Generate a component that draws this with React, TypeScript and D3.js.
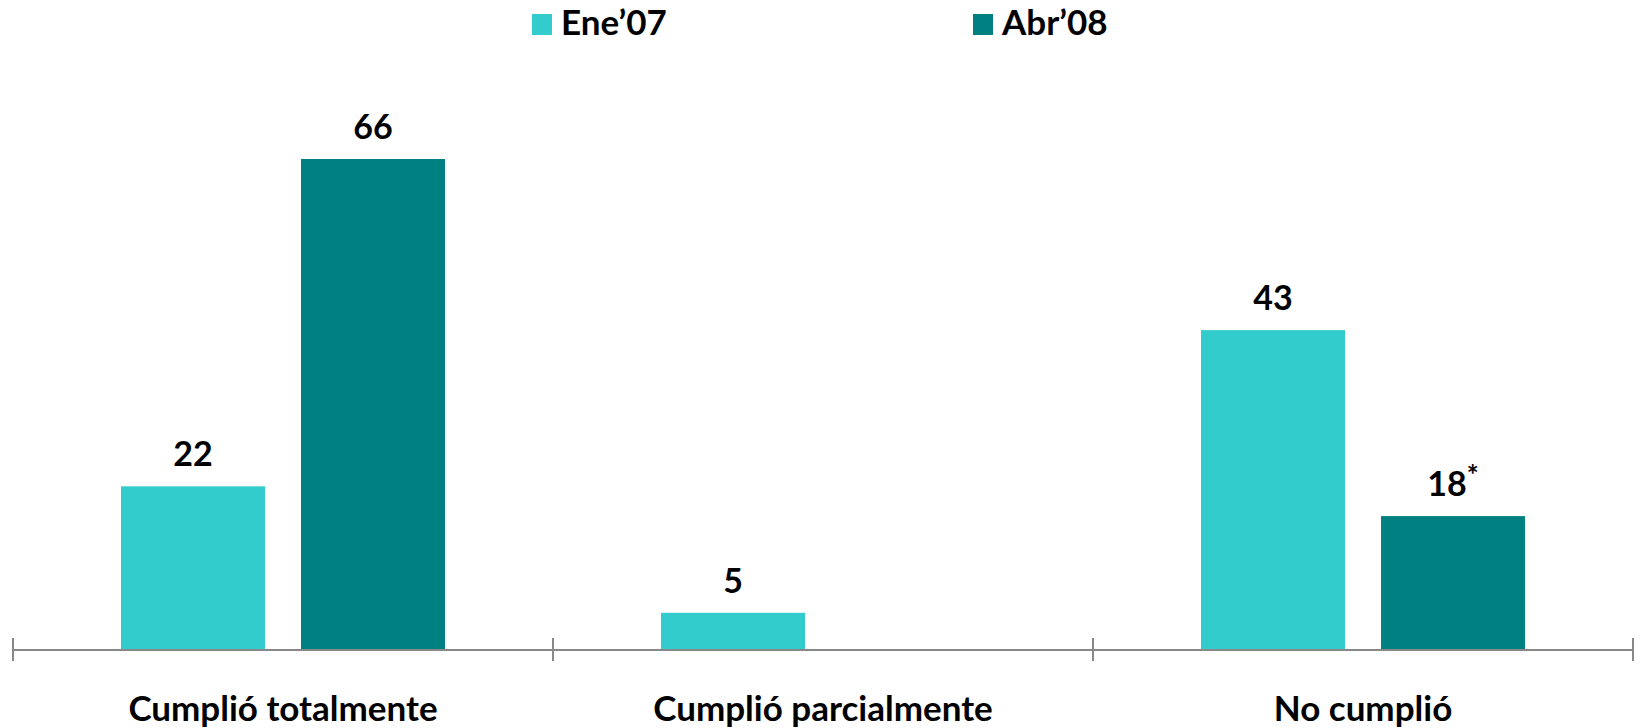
import React from "react";
import * as d3 from "d3";

const categories = ["Cumplió totalmente", "Cumplió parcialmente", "No cumplió"];
const seriesNames = ["Ene’07", "Abr’08"];
const ene07: (number | null)[] = [22, 5, 43];
const abr08: (number | null)[] = [66, null, 18];
const valueNotes: string[][] = [["", "", ""], ["", "", "*"]];
const colors = ["#33CCCC", "#008080"];

const W = 1640;
const H = 728;
const FONT = "Lato, 'Open Sans', sans-serif";

export default function App() {
  const x0 = d3.scaleBand<string>().domain(categories).range([13, 1633]).paddingInner(0).paddingOuter(0);
  const x1 = d3
    .scaleBand<string>()
    .domain(seriesNames)
    .range([108, 432])
    .paddingInner(0.2);
  const y = d3.scaleLinear().domain([0, 66]).range([650, 159]);
  const series = [ene07, abr08];
  const ticks = [...categories.map((c) => x0(c) as number), 1633];

  return (
    <svg width={W} height={H} style={{ position: "absolute", left: 0, top: 0, display: "block" }}>
      <rect width={W} height={H} fill="#fff" />
      {/* legend */}
      {seriesNames.map((s, i) => {
        const lx = i === 0 ? 532 : 973;
        return (
          <g key={s}>
            <rect x={lx} y={14} width={20} height={21} fill={colors[i]} />
            <text x={lx + 29} y={35} fontFamily={FONT} fontWeight={700} fontSize={35} fill="#000">
              {s}
            </text>
          </g>
        );
      })}
      {/* bars */}
      {categories.map((c, ci) => (
        <g key={c} transform={`translate(${x0(c)},0)`}>
          {series.map((vals, si) => {
            const v = vals[ci];
            if (v == null) return null;
            const bx = x1(seriesNames[si]) as number;
            const bw = x1.bandwidth();
            return (
              <g key={si}>
                <rect x={bx} y={y(v)} width={bw} height={y(0) - y(v)} fill={colors[si]} />
                <text
                  x={bx + bw / 2}
                  y={y(v) - 20}
                  textAnchor="middle"
                  fontFamily={FONT}
                  fontWeight={700}
                  fontSize={34}
                  fill="#000"
                >
                  {String(v)}
                  {valueNotes[si][ci] ? (
                    <tspan dy={-11} fontSize={28}>
                      {valueNotes[si][ci]}
                    </tspan>
                  ) : null}
                </text>
              </g>
            );
          })}
          <text
            x={x0.bandwidth() / 2}
            y={721}
            textAnchor="middle"
            fontFamily={FONT}
            fontWeight={700}
            fontSize={35}
            fill="#000"
          >
            {c}
          </text>
        </g>
      ))}
      {/* axis */}
      <line x1={13} x2={1633} y1={650} y2={650} stroke="#888" strokeWidth={2} />
      {ticks.map((t, i) => (
        <line key={i} x1={t} x2={t} y1={638} y2={661} stroke="#888" strokeWidth={2} />
      ))}
    </svg>
  );
}
